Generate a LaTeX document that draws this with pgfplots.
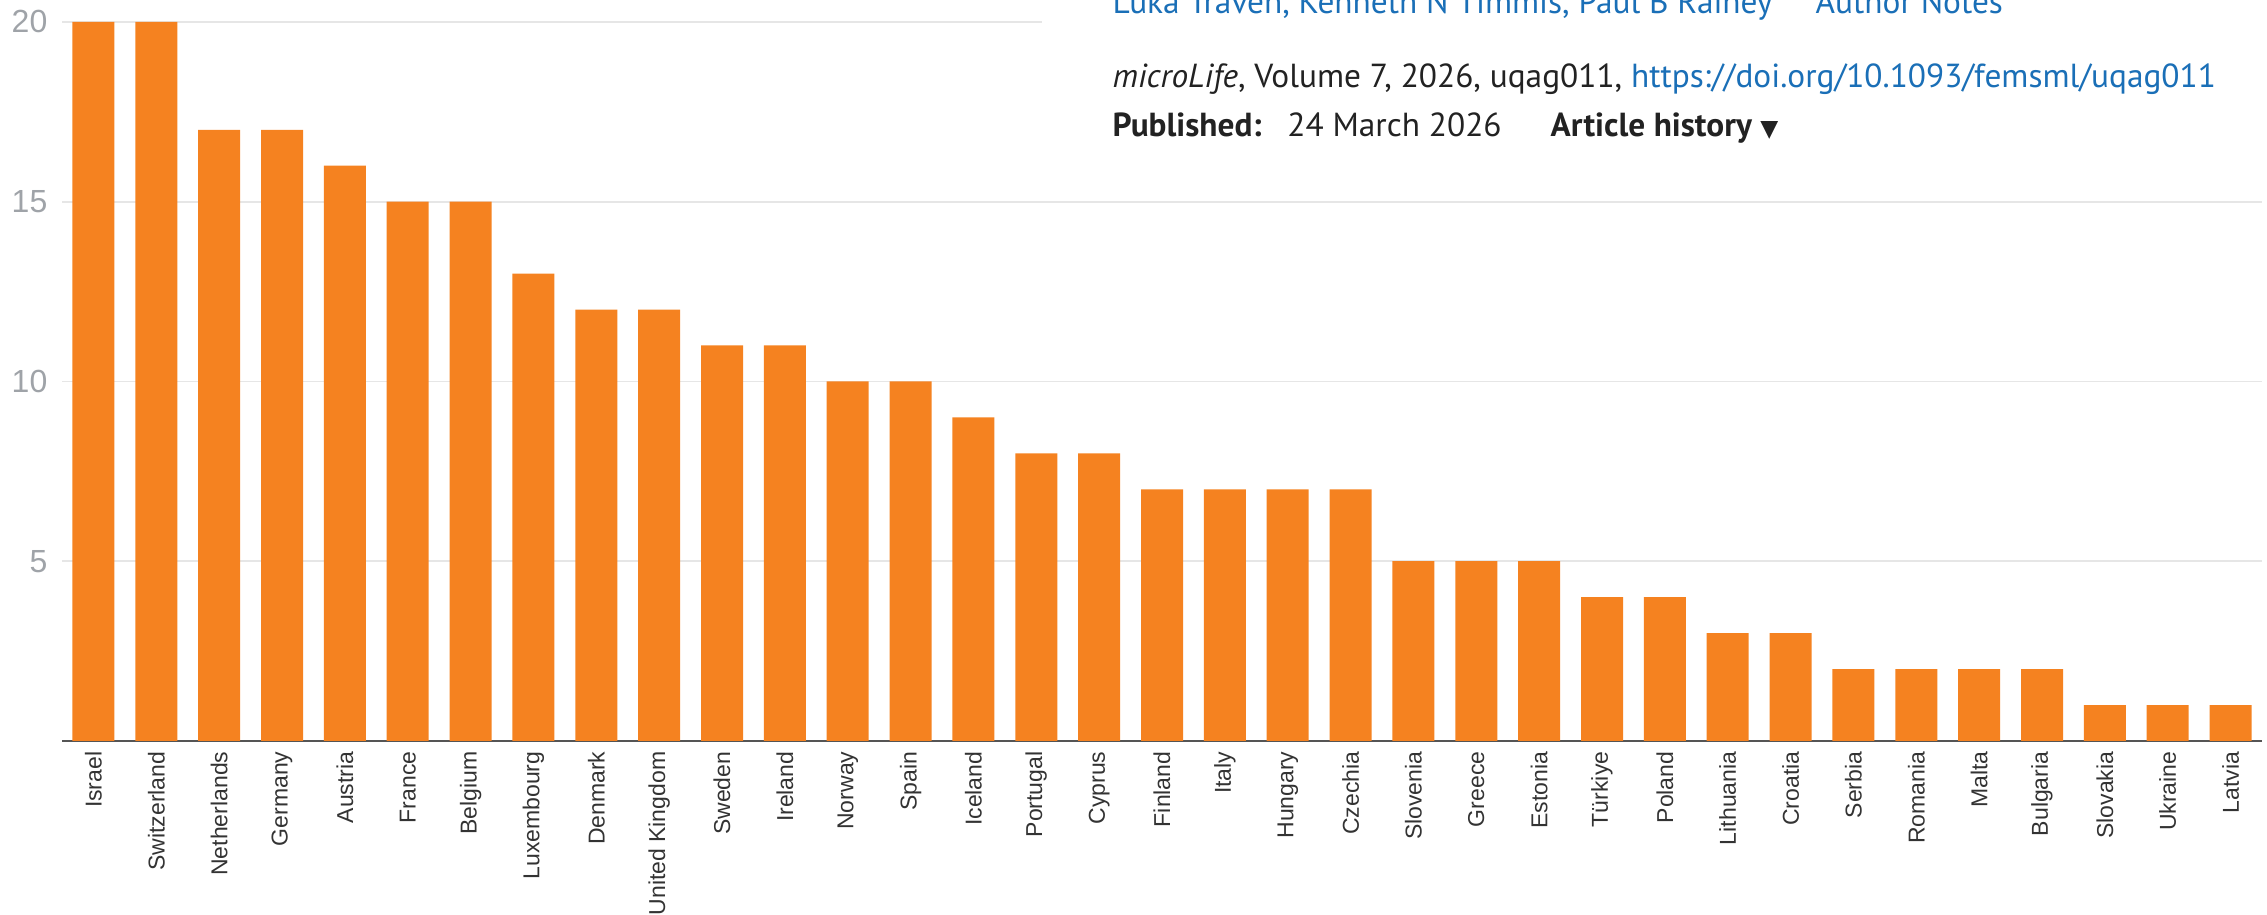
\documentclass[border=0pt]{standalone}
\usepackage{pgfplots}
\pgfplotsset{compat=1.18}
\usepackage{fontspec}
\setmainfont{Liberation Sans}
\newfontfamily\pagefont{PT Sans}
\newfontfamily\symfont{DejaVu Sans}
\definecolor{barorange}{HTML}{F58220}
\definecolor{gridgray}{HTML}{E6E6E6}
\definecolor{tickgray}{HTML}{9FA3A8}
\definecolor{labeldark}{HTML}{333333}
\definecolor{axisdark}{HTML}{555555}
\definecolor{linkblue}{HTML}{1A6FB7}
\definecolor{textdark}{HTML}{222222}
\begin{document}
\begin{tikzpicture}
\begin{axis}[
  at={(18.6pt,52.2pt)}, anchor=south west,
  scale only axis, width=660pt, height=222.3pt,
  xmin=-0.5, xmax=34.5, ymin=0, ymax=20.61,
  axis x line*=bottom, axis y line*=left,
  y axis line style={draw=none},
  x axis line style={draw=axisdark, line width=0.6pt, -},
  ytick={5,10,15,20},
  ymajorgrids, grid style={draw=gridgray, line width=0.5pt},
  major tick length=0pt,
  /pgf/number format/assume math mode=true,
  yticklabel style={font=\fontsize{9.6}{11}\selectfont, text=tickgray, inner sep=0pt, xshift=-4.2pt},
  xtick={0,...,34},
  xticklabels={Israel,Switzerland,Netherlands,Germany,Austria,France,Belgium,Luxembourg,Denmark,United Kingdom,Sweden,Ireland,Norway,Spain,Iceland,Portugal,Cyprus,Finland,Italy,Hungary,Czechia,Slovenia,Greece,Estonia,Türkiye,Poland,Lithuania,Croatia,Serbia,Romania,Malta,Bulgaria,Slovakia,Ukraine,Latvia},
  xticklabel style={yshift=-3.0pt, rotate=90, anchor=east, inner sep=0pt, font=\fontsize{6.9}{8.3}\selectfont, text=labeldark},
  ybar, bar width=12.6pt,
]
\addplot[fill=barorange, draw=none] coordinates {
(0,20) (1,20) (2,17) (3,17) (4,16) (5,15) (6,15) (7,13) (8,12) (9,12)
(10,11) (11,11) (12,10) (13,10) (14,9) (15,8) (16,8) (17,7) (18,7) (19,7)
(20,7) (21,5) (22,5) (23,5) (24,4) (25,4) (26,3) (27,3) (28,2) (29,2)
(30,2) (31,2) (32,1) (33,1) (34,1)
};
\end{axis}
\fill[white] (312.6pt,219pt) rectangle (681pt,276pt);
\begin{scope}[every node/.style={anchor=base west, inner sep=0pt, font=\pagefont\fontsize{10}{12}\selectfont, text=textdark}]
\node[text=linkblue] at (333.6pt,270.3pt) {Luka Traven, Kenneth N Timmis, Paul B Rainey};
\node[text=linkblue] at (544.5pt,270.3pt) {Author Notes};
\node at (333.6pt,248.1pt) {\textit{microLife}, Volume 7, 2026, uqag011, \textcolor{linkblue}{https://doi.org/10.1093/femsml/uqag011}};
\node at (333.6pt,233.4pt) {\bfseries Published:};
\node at (386pt,233.4pt) {24 March 2026};
\node at (465pt,233.4pt) {\bfseries Article history {\symfont\fontsize{7}{8}\selectfont ▼}};
\end{scope}
\pgfresetboundingbox
\path[use as bounding box] (0,0) rectangle (680.1pt,274.5pt);
\end{tikzpicture}
\end{document}
